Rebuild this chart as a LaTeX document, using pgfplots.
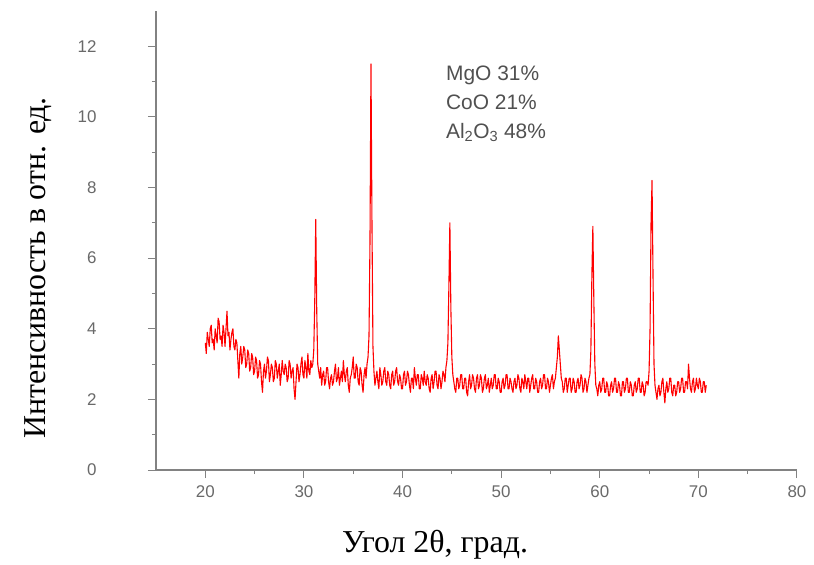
\documentclass[border=0pt]{standalone}
\usepackage{fontspec}
\setmainfont{Liberation Serif}
\setsansfont{Liberation Sans}
\usepackage{pgfplots}
\pgfplotsset{compat=1.18}
\definecolor{axgray}{RGB}{130,130,130}
\definecolor{lblgray}{RGB}{105,105,105}
\definecolor{txtgray}{RGB}{80,80,80}
\begin{document}
\begin{tikzpicture}
\useasboundingbox (-156bp,-95bp) rectangle (658bp,470bp);
\begin{axis}[
  at={(0,0)}, anchor=south west,
  scale only axis, width=641bp, height=459bp,
  xmin=15, xmax=80, ymin=0, ymax=13,
  axis x line=bottom, axis y line=left,
  axis line style={-, axgray, line width=1.6bp},
  xtick={20,30,...,80}, ytick={0,2,...,12},
  minor x tick num=1, minor y tick num=1,
  tick align=outside,
  major tick length=8bp, minor tick length=4bp,
  tick style={axgray, line width=1bp},
  /pgf/number format/assume math mode=true,
  ticklabel style={font=\sffamily\fontsize{17}{19}\selectfont, text=lblgray},
  yticklabel style={anchor=east, xshift=-48bp},
  xticklabel style={anchor=north, yshift=-4bp},
  clip=false,
]
\addplot[red, line width=1.1bp, line join=round] coordinates {
(20.0,3.6)(20.1,3.3)(20.2,3.9)(20.3,3.7)(20.4,3.5)(20.5,4.0)(20.6,4.1)(20.7,3.6)(20.8,3.7)(20.9,3.4)
(21.0,4.0)(21.1,3.8)(21.2,3.6)(21.3,4.3)(21.4,4.2)(21.5,3.7)(21.6,3.8)(21.7,3.5)(21.8,4.1)(21.9,3.9)
(22.0,3.5)(22.1,4.0)(22.2,4.5)(22.3,3.8)(22.4,3.9)(22.5,3.4)(22.6,3.7)(22.7,3.9)(22.8,4.0)(22.9,3.5)
(23.0,3.4)(23.1,3.7)(23.2,3.6)(23.3,3.1)(23.4,2.6)(23.5,3.3)(23.6,3.5)(23.7,3.0)(23.8,3.2)(23.9,3.5)
(24.0,3.4)(24.1,2.9)(24.2,3.0)(24.3,3.4)(24.4,3.3)(24.5,2.8)(24.6,2.9)(24.7,3.3)(24.8,3.2)(24.9,2.7)
(25.0,2.8)(25.1,3.2)(25.2,3.1)(25.3,2.6)(25.4,2.7)(25.5,3.1)(25.6,3.0)(25.7,2.5)(25.8,2.2)(25.9,2.8)
(26.0,3.0)(26.1,2.6)(26.2,2.8)(26.3,3.2)(26.4,3.1)(26.5,2.5)(26.6,2.7)(26.7,3.0)(26.8,2.9)(26.9,2.5)
(27.0,2.6)(27.1,3.1)(27.2,3.0)(27.3,2.6)(27.4,2.8)(27.5,3.0)(27.6,2.4)(27.7,2.7)(27.8,3.1)(27.9,2.8)
(28.0,2.7)(28.1,3.0)(28.2,2.9)(28.3,2.5)(28.4,2.6)(28.5,3.1)(28.6,3.0)(28.7,2.6)(28.8,2.8)(28.9,2.9)
(29.0,2.3)(29.1,2.0)(29.2,2.5)(29.3,3.0)(29.4,2.9)(29.5,2.5)(29.6,2.7)(29.7,3.0)(29.8,3.2)(29.9,2.7)
(30.0,2.6)(30.1,3.1)(30.2,2.9)(30.3,2.6)(30.4,3.3)(30.5,2.8)(30.6,2.7)(30.7,3.1)(30.8,2.9)(30.9,3.0)
(31.0,3.4)(31.1,4.8)(31.2,7.1)(31.3,4.5)(31.4,3.0)(31.5,2.8)(31.6,2.6)(31.7,2.9)(31.8,2.4)(31.9,2.7)
(32.0,2.8)(32.1,2.4)(32.2,2.5)(32.3,2.9)(32.4,2.9)(32.5,2.5)(32.6,2.3)(32.7,2.6)(32.8,2.7)(32.9,2.4)
(33.0,2.5)(33.1,2.8)(33.2,3.0)(33.3,2.5)(33.4,2.6)(33.5,2.9)(33.6,2.4)(33.7,2.6)(33.8,2.8)(33.9,2.5)
(34.0,3.1)(34.1,2.7)(34.2,2.5)(34.3,2.8)(34.4,2.9)(34.5,2.4)(34.6,2.2)(34.7,2.6)(34.8,2.7)(34.9,2.9)
(35.0,3.2)(35.1,2.6)(35.2,2.6)(35.3,3.0)(35.4,2.9)(35.5,2.5)(35.6,2.4)(35.7,2.9)(35.8,2.8)(35.9,2.4)
(36.0,2.2)(36.1,2.7)(36.2,2.9)(36.3,2.6)(36.4,3.0)(36.5,3.2)(36.6,3.8)(36.7,6.5)(36.8,11.5)(36.9,7.0)
(37.0,3.5)(37.1,2.8)(37.2,2.4)(37.3,2.6)(37.4,2.8)(37.5,2.5)(37.6,2.3)(37.7,2.9)(37.8,2.7)(37.9,2.4)
(38.0,2.5)(38.1,2.8)(38.2,2.9)(38.3,2.5)(38.4,2.4)(38.5,2.8)(38.6,2.7)(38.7,2.4)(38.8,2.3)(38.9,2.7)
(39.0,2.8)(39.1,2.4)(39.2,2.5)(39.3,2.8)(39.4,2.9)(39.5,2.5)(39.6,2.4)(39.7,2.7)(39.8,2.6)(39.9,2.3)
(40.0,2.3)(40.1,2.7)(40.2,2.8)(40.3,2.4)(40.4,2.5)(40.5,2.8)(40.6,2.7)(40.7,2.4)(40.8,2.2)(40.9,2.6)
(41.0,2.6)(41.1,2.3)(41.2,2.9)(41.3,2.6)(41.4,2.4)(41.5,2.7)(41.6,2.7)(41.7,2.3)(41.8,2.3)(41.9,2.7)
(42.0,2.6)(42.1,2.4)(42.2,2.8)(42.3,2.5)(42.4,2.4)(42.5,2.7)(42.6,2.6)(42.7,2.3)(42.8,2.2)(42.9,2.6)
(43.0,2.7)(43.1,2.3)(43.2,2.5)(43.3,2.8)(43.4,2.8)(43.5,2.4)(43.6,2.3)(43.7,2.7)(43.8,2.6)(43.9,2.3)
(44.0,2.5)(44.1,2.8)(44.2,2.7)(44.3,2.5)(44.4,2.9)(44.5,3.1)(44.6,3.6)(44.7,5.2)(44.8,7.0)(44.9,4.6)
(45.0,3.2)(45.1,2.7)(45.2,2.5)(45.3,2.3)(45.4,2.2)(45.5,2.6)(45.6,2.6)(45.7,2.3)(45.8,2.4)(45.9,2.7)
(46.0,2.7)(46.1,2.3)(46.2,2.3)(46.3,2.6)(46.4,2.6)(46.5,2.2)(46.6,2.1)(46.7,2.5)(46.8,2.7)(46.9,2.3)
(47.0,2.4)(47.1,2.7)(47.2,2.6)(47.3,2.3)(47.4,2.2)(47.5,2.6)(47.6,2.7)(47.7,2.3)(47.8,2.4)(47.9,2.7)
(48.0,2.6)(48.1,2.2)(48.2,2.3)(48.3,2.6)(48.4,2.7)(48.5,2.3)(48.6,2.4)(48.7,2.6)(48.8,2.2)(48.9,2.4)
(49.0,2.6)(49.1,2.3)(49.2,2.4)(49.3,2.7)(49.4,2.7)(49.5,2.3)(49.6,2.3)(49.7,2.6)(49.8,2.5)(49.9,2.2)
(50.0,2.2)(50.1,2.5)(50.2,2.6)(50.3,2.3)(50.4,2.4)(50.5,2.7)(50.6,2.7)(50.7,2.3)(50.8,2.3)(50.9,2.6)
(51.0,2.5)(51.1,2.3)(51.2,2.2)(51.3,2.5)(51.4,2.6)(51.5,2.3)(51.6,2.4)(51.7,2.7)(51.8,2.6)(51.9,2.3)
(52.0,2.2)(52.1,2.6)(52.2,2.5)(52.3,2.3)(52.4,2.7)(52.5,2.5)(52.6,2.3)(52.7,2.6)(52.8,2.6)(52.9,2.2)
(53.0,2.4)(53.1,2.6)(53.2,2.7)(53.3,2.3)(53.4,2.3)(53.5,2.6)(53.6,2.5)(53.7,2.2)(53.8,2.2)(53.9,2.5)
(54.0,2.6)(54.1,2.3)(54.2,2.4)(54.3,2.7)(54.4,2.7)(54.5,2.3)(54.6,2.3)(54.7,2.6)(54.8,2.5)(54.9,2.2)
(55.0,2.4)(55.1,2.6)(55.2,2.7)(55.3,2.3)(55.4,2.5)(55.5,2.6)(55.6,2.9)(55.7,3.2)(55.8,3.8)(55.9,3.4)
(56.0,3.0)(56.1,2.6)(56.2,2.5)(56.3,2.2)(56.4,2.3)(56.5,2.6)(56.6,2.6)(56.7,2.2)(56.8,2.4)(56.9,2.6)
(57.0,2.6)(57.1,2.2)(57.2,2.3)(57.3,2.6)(57.4,2.5)(57.5,2.2)(57.6,2.2)(57.7,2.5)(57.8,2.6)(57.9,2.3)
(58.0,2.4)(58.1,2.7)(58.2,2.6)(58.3,2.2)(58.4,2.3)(58.5,2.6)(58.6,2.5)(58.7,2.2)(58.8,2.4)(58.9,2.6)
(59.0,2.7)(59.1,3.4)(59.2,5.5)(59.3,6.9)(59.4,4.8)(59.5,3.0)(59.6,2.4)(59.7,2.3)(59.8,2.1)(59.9,2.4)
(60.0,2.5)(60.1,2.2)(60.2,2.3)(60.3,2.6)(60.4,2.6)(60.5,2.2)(60.6,2.2)(60.7,2.5)(60.8,2.4)(60.9,2.1)
(61.0,2.1)(61.1,2.4)(61.2,2.5)(61.3,2.2)(61.4,2.3)(61.5,2.6)(61.6,2.6)(61.7,2.2)(61.8,2.2)(61.9,2.5)
(62.0,2.4)(62.1,2.1)(62.2,2.1)(62.3,2.5)(62.4,2.5)(62.5,2.2)(62.6,2.3)(62.7,2.6)(62.8,2.6)(62.9,2.2)
(63.0,2.2)(63.1,2.5)(63.2,2.4)(63.3,2.1)(63.4,2.1)(63.5,2.4)(63.6,2.5)(63.7,2.2)(63.8,2.3)(63.9,2.6)
(64.0,2.6)(64.1,2.2)(64.2,2.2)(64.3,2.5)(64.4,2.4)(64.5,2.1)(64.6,2.2)(64.7,2.5)(64.8,2.5)(64.9,2.4)
(65.0,2.8)(65.1,4.0)(65.2,7.0)(65.3,8.2)(65.4,5.5)(65.5,3.0)(65.6,2.4)(65.7,2.2)(65.8,2.0)(65.9,2.3)
(66.0,2.4)(66.1,2.1)(66.2,2.2)(66.3,2.5)(66.4,2.6)(66.5,2.2)(66.6,1.9)(66.7,2.3)(66.8,2.5)(66.9,2.2)
(67.0,2.3)(67.1,2.6)(67.2,2.6)(67.3,2.2)(67.4,2.1)(67.5,2.4)(67.6,2.4)(67.7,2.1)(67.8,2.2)(67.9,2.5)
(68.0,2.5)(68.1,2.2)(68.2,2.3)(68.3,2.6)(68.4,2.6)(68.5,2.2)(68.6,2.2)(68.7,2.5)(68.8,2.5)(68.9,2.3)
(69.0,3.0)(69.1,2.6)(69.2,2.3)(69.3,2.2)(69.4,2.5)(69.5,2.6)(69.6,2.2)(69.7,2.3)(69.8,2.6)(69.9,2.4)
(70.0,2.3)(70.1,2.6)(70.2,2.5)(70.3,2.2)(70.4,2.2)(70.5,2.5)(70.6,2.5)(70.7,2.2)(70.8,2.4)
};
\node[anchor=north west, align=left, font=\sffamily\fontsize{21}{29}\selectfont, text=txtgray, inner sep=0pt]
  at (axis cs:44.4,11.45) {MgO 31\%\\CoO 21\%\\Al\textsubscript{2}O\textsubscript{3} 48\%};
\end{axis}
\node[font=\fontsize{32}{36}\selectfont] at (279bp,-75bp) {Угол 2θ, град.};
\node[font=\fontsize{32}{36}\selectfont, rotate=90] at (-118bp,202bp) {Интенсивность в отн. ед.};
\end{tikzpicture}
\end{document}
